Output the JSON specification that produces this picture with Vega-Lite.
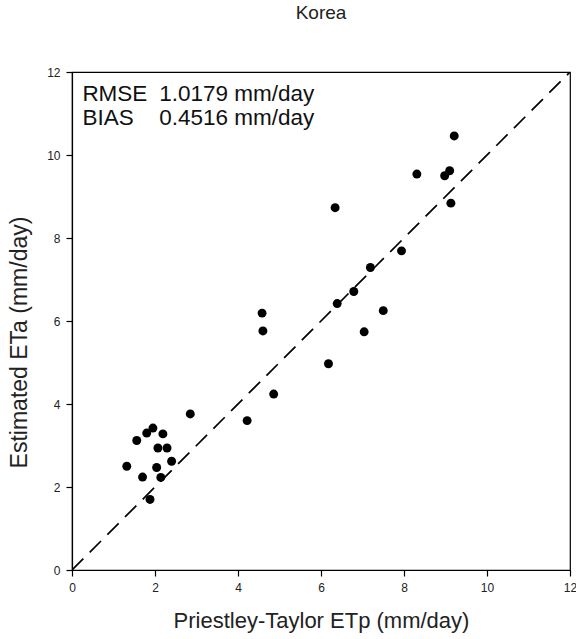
{
  "$schema": "https://vega.github.io/schema/vega-lite/v6.json",
  "width": 498,
  "height": 498,
  "autosize": {"type": "none"},
  "padding": {"left": 72, "top": 72, "right": 6, "bottom": 69},
  "background": "white",
  "title": {"text": "Korea", "fontSize": 19, "font": "Liberation Sans", "fontWeight": "normal", "color": "#222", "offset": 43, "anchor": "middle"},
  "config": {
    "view": {"stroke": "black", "strokeWidth": 1.2},
    "axis": {"grid": false, "domainColor": "black", "tickColor": "black", "labelColor": "#222", "titleColor": "#222", "labelFont": "Liberation Sans", "titleFont": "Liberation Sans", "titleFontWeight": "normal", "labelFontSize": 12, "titleFontSize": 22, "tickSize": 6, "domainWidth": 1.2, "tickWidth": 1.2}
  },
  "datasets": {
    "pts": [
      {"etp": 1.32, "eta": 2.50}, {"etp": 1.56, "eta": 3.12}, {"etp": 1.70, "eta": 2.24}, {"etp": 1.80, "eta": 3.30},
      {"etp": 1.88, "eta": 1.70}, {"etp": 1.95, "eta": 3.42}, {"etp": 2.04, "eta": 2.47}, {"etp": 2.07, "eta": 2.94},
      {"etp": 2.14, "eta": 2.23}, {"etp": 2.19, "eta": 3.28}, {"etp": 2.29, "eta": 2.94}, {"etp": 2.40, "eta": 2.62},
      {"etp": 2.85, "eta": 3.76}, {"etp": 4.22, "eta": 3.60}, {"etp": 4.58, "eta": 6.19}, {"etp": 4.60, "eta": 5.76},
      {"etp": 4.86, "eta": 4.24}, {"etp": 6.18, "eta": 4.97}, {"etp": 6.34, "eta": 8.73}, {"etp": 6.39, "eta": 6.42},
      {"etp": 6.79, "eta": 6.71}, {"etp": 7.04, "eta": 5.74}, {"etp": 7.19, "eta": 7.29}, {"etp": 7.50, "eta": 6.25},
      {"etp": 7.94, "eta": 7.69}, {"etp": 8.31, "eta": 9.54}, {"etp": 8.98, "eta": 9.50}, {"etp": 9.10, "eta": 9.62},
      {"etp": 9.13, "eta": 8.84}, {"etp": 9.21, "eta": 10.46}
    ],
    "line": [{"etp": 0, "eta": 0}, {"etp": 12, "eta": 12}],
    "notes": [
      {"etp": 0.25, "eta": 11.46, "label": "RMSE"},
      {"etp": 2.1, "eta": 11.46, "label": "1.0179 mm/day"},
      {"etp": 0.25, "eta": 10.90, "label": "BIAS"},
      {"etp": 2.1, "eta": 10.90, "label": "0.4516 mm/day"}
    ]
  },
  "encoding": {
    "x": {"field": "etp", "type": "quantitative", "scale": {"domain": [0, 12], "nice": false, "zero": false},
      "axis": {"title": "Priestley-Taylor ETp (mm/day)", "values": [0, 2, 4, 6, 8, 10, 12], "labelPadding": 6, "titlePadding": 17, "labelFlush": false}},
    "y": {"field": "eta", "type": "quantitative", "scale": {"domain": [0, 12], "nice": false, "zero": false},
      "axis": {"title": "Estimated ETa (mm/day)", "titleFontSize": 23, "titleY": 270, "values": [0, 2, 4, 6, 8, 10, 12], "labelPadding": 6, "titlePadding": 15, "labelFlush": false}}
  },
  "layer": [
    {"data": {"name": "line"}, "mark": {"type": "line", "color": "black", "strokeWidth": 1.7, "strokeDash": [16, 9], "clip": true}},
    {"data": {"name": "pts"}, "mark": {"type": "circle", "color": "black", "opacity": 1, "size": 80}},
    {"data": {"name": "notes"}, "mark": {"type": "text", "align": "left", "baseline": "middle", "font": "Liberation Sans", "fontSize": 22.5, "color": "#111"},
      "encoding": {"text": {"field": "label"}}}
  ]
}
